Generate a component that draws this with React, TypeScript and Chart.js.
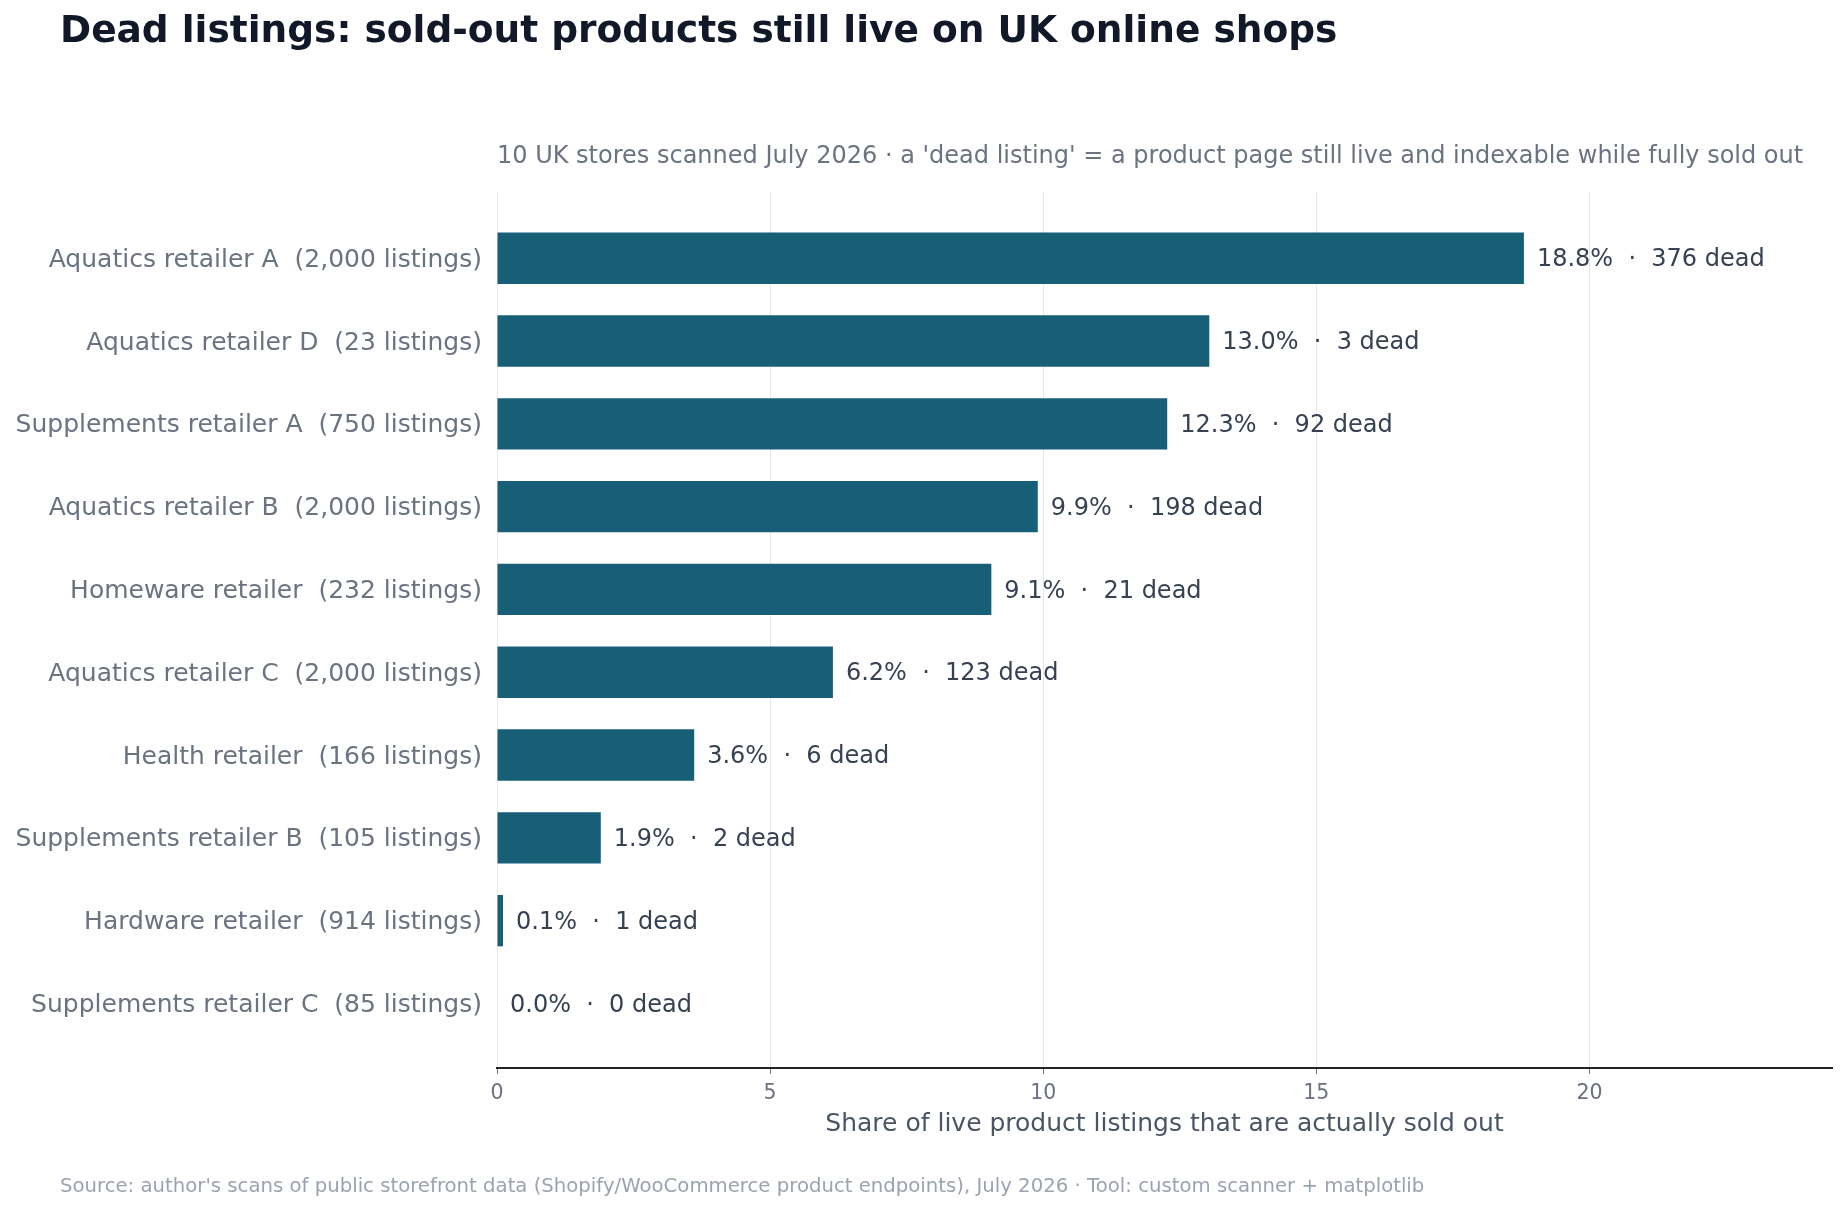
import React, { useEffect, useRef } from "react";
import { Chart, registerables } from "chart.js";

Chart.register(...registerables);

const stores: string[] = [
  "Aquatics retailer A",
  "Aquatics retailer D",
  "Supplements retailer A",
  "Aquatics retailer B",
  "Homeware retailer",
  "Aquatics retailer C",
  "Health retailer",
  "Supplements retailer B",
  "Hardware retailer",
  "Supplements retailer C",
];
const listings: number[] = [2000, 23, 750, 2000, 232, 2000, 166, 105, 914, 85];
const sharePct: number[] = [18.8, 13.04, 12.27, 9.9, 9.05, 6.15, 3.61, 1.9, 0.11, 0.0];
const deadCounts: number[] = [376, 3, 92, 198, 21, 123, 6, 2, 1, 0];
const xTicks: number[] = [0, 5, 10, 15, 20];

const TITLE = "Dead listings: sold-out products still live on UK online shops";
const SUBTITLE =
  "10 UK stores scanned July 2026 \u00b7 a 'dead listing' = a product page still live and indexable while fully sold out";
const X_TITLE = "Share of live product listings that are actually sold out";
const FOOTER =
  "Source: author's scans of public storefront data (Shopify/WooCommerce product endpoints), July 2026 \u00b7 Tool: custom scanner + matplotlib";

const FONT = "'DejaVu Sans', sans-serif";
const W = 1847;
const H = 1212;

export default function App() {
  const ref = useRef<HTMLCanvasElement | null>(null);

  useEffect(() => {
    if (!ref.current) return;
    const labels = stores.map(
      (s, i) => `${s}  (${listings[i].toLocaleString("en-GB")} listings)`
    );
    const textPlugin = {
      id: "texts",
      afterDatasetsDraw(chart: any) {
        const ctx = chart.ctx;
        const meta = chart.getDatasetMeta(0);
        ctx.save();
        ctx.font = `24px ${FONT}`;
        ctx.fillStyle = "#374151";
        ctx.textAlign = "left";
        ctx.textBaseline = "middle";
        meta.data.forEach((bar: any, i: number) => {
          const txt = `${sharePct[i].toFixed(1)}%  \u00b7  ${deadCounts[i]} dead`;
          ctx.fillText(txt, bar.x + 13, bar.y + 2);
        });
        ctx.restore();
      },
      afterDraw(chart: any) {
        const ctx = chart.ctx;
        const ca = chart.chartArea;
        ctx.save();
        ctx.textBaseline = "middle";
        ctx.textAlign = "left";
        ctx.font = `bold 37.5px ${FONT}`;
        ctx.fillStyle = "#111827";
        ctx.fillText(TITLE, 60, 32);
        ctx.font = `24px ${FONT}`;
        ctx.fillStyle = "#6b7280";
        ctx.fillText(SUBTITLE, ca.left, 157);
        ctx.font = `25px ${FONT}`;
        ctx.fillStyle = "#4b5563";
        ctx.textAlign = "center";
        ctx.fillText(X_TITLE, (ca.left + ca.right) / 2, 1124);
        ctx.font = `19.7px ${FONT}`;
        ctx.fillStyle = "#9ca3af";
        ctx.textAlign = "left";
        ctx.fillText(FOOTER, 60, 1187);
        ctx.restore();
      },
    };

    const chart = new Chart(ref.current, {
      type: "bar",
      data: {
        datasets: [
          {
            data: sharePct.map((v, i) => ({ x: v, y: i })),
            backgroundColor: "#175f76",
            borderWidth: 0,
            barPercentage: 0.62,
            categoryPercentage: 1,
          },
        ],
      },
      options: {
        indexAxis: "y",
        responsive: false,
        animation: false,
        devicePixelRatio: 1,
        layout: { padding: { left: 0, top: 192, right: 15, bottom: 84 } },
        plugins: {
          legend: { display: false },
          tooltip: { enabled: false },
        },
        scales: {
          x: {
            type: "linear",
            position: "bottom",
            min: 0,
            max: 24.44,
            offset: false,
            afterBuildTicks: (s: any) => {
              s.ticks = xTicks.map((v) => ({ value: v }));
            },
            afterFit: (s: any) => {
              s.height = 60;
            },
            grid: {
              color: "#e5e7eb",
              lineWidth: 1,
              drawTicks: true,
              tickLength: 6,
              tickColor: "#6b7280",
            },
            border: { display: true, color: "#222222", width: 2 },
            ticks: {
              color: "#6b7280",
              font: { family: FONT, size: 20.5 },
              padding: 7,
              callback: (v: any) => String(v),
            },
          },
          y: {
            type: "linear",
            reverse: true,
            offset: false,
            min: -0.8,
            max: 9.78,
            afterBuildTicks: (s: any) => {
              s.ticks = labels.map((_, i) => ({ value: i }));
            },
            afterFit: (s: any) => {
              s.width = 497;
            },
            grid: { display: false, drawTicks: false },
            border: { display: false },
            ticks: {
              color: "#6b7280",
              font: { family: FONT, size: 25 },
              padding: 15,
              labelOffset: 2,
              autoSkip: false,
              callback: (v: any) => labels[Math.round(Number(v))] ?? "",
            },
          },
        },
      },
      plugins: [textPlugin],
    } as any);
    return () => chart.destroy();
  }, []);

  return (
    <div style={{ position: "fixed", left: 0, top: 0, width: W, height: H, background: "#fff" }}>
      <canvas ref={ref} width={W} height={H} style={{ display: "block" }} />
    </div>
  );
}
